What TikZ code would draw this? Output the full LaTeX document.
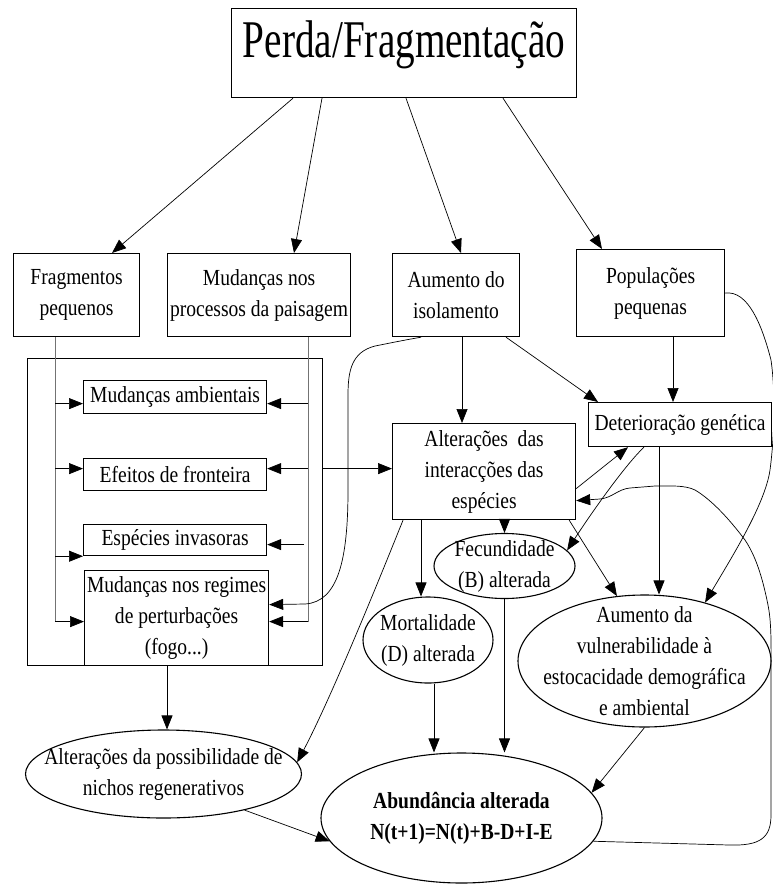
\documentclass[tikz,border=0pt]{standalone}
\usepackage{fontspec}
\setmainfont{Liberation Serif}[FakeStretch=0.85]
\newfontfamily\titlefont{Liberation Serif}[FakeStretch=0.74]
\usepackage{tikz}
\usetikzlibrary{arrows.meta, positioning, calc, shapes.geometric}
\newcommand{\txtfont}{\fontsize{23pt}{31pt}\selectfont}

\begin{document}
\begin{tikzpicture}[
    x=1pt, y=-1pt,
    box/.style={draw, line width=1.2pt, inner sep=0pt, align=center, anchor=north west, font=\txtfont},
    ell/.style={draw, ellipse, line width=1.1pt, inner sep=-40pt, align=center, font=\txtfont},
    arr/.style={-{Triangle[length=14pt, width=11pt]}, line width=0.7pt},
    feed/.style={draw=black!55, line width=1pt}
]
\useasboundingbox (0,0) rectangle (773,884);
% Nodes
\node[box, minimum width=345pt, minimum height=89pt, text height=36pt, text depth=27pt,
      font=\titlefont\fontsize{53pt}{60pt}\selectfont] (perda) at (231,8) {Perda/Fragmentação};
\node[box, minimum width=126pt, minimum height=83pt] (frag) at (13,253) {Fragmentos\\pequenos};
\node[box, minimum width=183pt, minimum height=83pt] (proc) at (167,253) {Mudanças nos\\processos da paisagem};
\node[box, minimum width=127pt, minimum height=83pt] (isol) at (392,253) {Aumento do\\isolamento};
\node[box, minimum width=148pt, minimum height=87pt] (popu) at (576,249) {Populações\\pequenas};
\node[box, minimum width=295pt, minimum height=307pt] (grupo) at (27,358) {};
\node[box, minimum width=183pt, minimum height=33pt] (amb) at (83,380) {Mudanças ambientais};
\node[box, minimum width=183pt, minimum height=32pt] (efei) at (83,458) {Efeitos de fronteira};
\node[box, minimum width=183pt, minimum height=31pt] (inva) at (83,524) {Espécies invasoras};
\node[box, minimum width=184pt, minimum height=95pt] (regi) at (84,570) {Mudanças nos regimes\\de perturbações\\(fogo...)};
\node[box, minimum width=183pt, minimum height=96pt] (alte) at (392,423) {Alterações~ das\\interacções das\\espécies};
\node[box, minimum width=183pt, minimum height=44pt] (dete) at (588,402) {Deterioração genética};
\node[ell, minimum width=141pt, minimum height=65pt] (fecu) at (504.5,566) {Fecundidade\\(B) alterada};
\node[ell, minimum width=130pt, minimum height=86pt] (mort) at (428,640) {Mortalidade\\(D) alterada};
\node[ell, minimum width=253pt, minimum height=132pt] (vuln) at (644.5,661) {Aumento da\\vulnerabilidade à\\estocacidade demográfica\\e ambiental};
\node[ell, minimum width=276pt, minimum height=88pt] (nich) at (163.5,774) {Alterações da possibilidade de\\nichos regenerativos};
\node[ell, minimum width=281pt, minimum height=130pt, font=\bfseries\txtfont] (abun) at (461.5,818) {Abundância alterada\\N(t+1)=N(t)+B-D+I-E};

% Edges from the title
\draw[arr] ($(perda.south west)+(62,0)$) -- ($(frag.north west)+(99,0)$);
\draw[arr] ($(perda.south west)+(91,0)$) -- ($(proc.north west)+(127,0)$);
\draw[arr] ($(perda.south west)+(175,0)$) -- ($(isol.north west)+(69,0)$);
\draw[arr] ($(perda.south west)+(272,0)$) -- ($(popu.north west)+(26,0)$);

% Left group: two feeder lines and their arrows
\coordinate (fl) at ($(frag.south west)+(42,0)$);
\coordinate (fr) at ($(proc.south west)+(141,0)$);
\coordinate (l1) at ([yshift=-6.5pt]amb.west);
\coordinate (l2) at ([yshift=6pt]efei.west);
\coordinate (l4) at ([yshift=-3.5pt]regi.west);
\coordinate (r1) at ([yshift=-6.5pt]amb.east);
\coordinate (r2) at ([yshift=6pt]efei.east);
\coordinate (r3) at ([yshift=-4.5pt]inva.east);
\coordinate (r4) at ([yshift=-3.5pt]regi.east);
\coordinate (r5) at ([yshift=13.5pt]regi.east);
\draw[feed] (fl) -- (fl |- l4);
\draw[feed] (fr) -- (fr |- r4);
\draw[arr] (fl |- l1) -- (l1);
\draw[arr] (fl |- l2) -- (l2);
\draw[arr] (fl |- inva.south west) -- (inva.south west);
\draw[arr] (fl |- l4) -- (l4);
\draw[arr] (fr |- r1) -- (r1);
\draw[arr] (fr |- r2) -- (r2);
\draw[arr] ($(r3)+(37,0)$) -- (r3);
\draw[arr] (fr |- r4) -- (r4);

% Middle and right edges
\coordinate (a1) at ([yshift=3pt]alte.west);
\draw[arr] (grupo.east |- a1) -- (a1);
\draw[arr] ($(isol.south west)+(70,0)$) coordinate (ia) -- (ia |- alte.north);
\draw[arr] ($(isol.south west)+(114,0)$) -- ($(dete.north west)+(10,0)$);
\draw[arr] ($(popu.south west)+(97,0)$) coordinate (pd) -- (pd |- dete.north);
\draw[arr] ($(isol.south west)+(29,0)$) .. controls (405,340) and (395,342) .. (375,346)
    .. controls (352,352) and (348,370) .. (348,395) -- (348,490)
    .. controls (348,560) and (338,602) .. (305,604) -- (r5);
\draw[arr] (popu.east) .. controls (748,290) and (762,325) .. (771,360)
    .. controls (776,395) and (774,440) .. (770,470)
    .. controls (765,505) and (730,560) .. (vuln.44);
\draw[arr] ($(dete.south west)+(71,0)$) coordinate (dv) -- (dv |- vuln.north);
\draw[arr] ($(dete.south west)+(56,0)$) .. controls (625,465) and (590,515) .. (fecu.14);
\draw[arr] ([yshift=-17pt]alte.east) -- ($(dete.south west)+(40,0)$);
\draw[arr] (abun.-10) -- (729,845) .. controls (760,846) and (771,838) .. (771,815) -- (771,690)
    .. controls (771,650) and (772,625) .. (768,605)
    .. controls (762,575) and (755,555) .. (745,540)
    .. controls (730,520) and (712,500) .. (695,490)
    .. controls (685,485) and (670,486) .. (655,486) -- (630,488)
    .. controls (618,489) and (612,498) .. (600,499) -- ([yshift=-29pt]alte.east);
\draw[arr] ($(alte.south east)+(-7,0)$) -- (vuln.113);
\draw[arr] (fecu.north |- alte.south) -- (fecu.north);
\draw[arr] ($(alte.south west)+(29,0)$) coordinate (am) -- (am |- mort.north);
\draw[arr] ($(alte.south west)+(11,0)$) .. controls (375,590) and (330,700) .. (nich.5);

% Bottom edges
\draw[arr] ($(regi.south west)+(83,0)$) coordinate (rn) -- (rn |- nich.north);
\draw[arr] ($(mort.south)+(6,0)$) coordinate (ma) -- (ma |- abun.north);
\draw[arr] (fecu.south) -- (fecu.south |- abun.north);
\draw[arr] (nich.-24) -- (abun.190);
\draw[arr] (vuln.south) -- (abun.11);
\end{tikzpicture}
\end{document}
